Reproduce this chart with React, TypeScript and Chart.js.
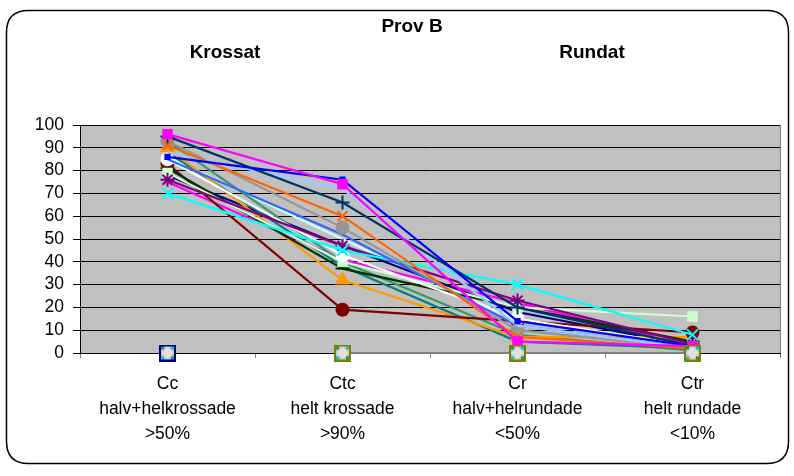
import React, { useEffect, useRef } from "react";
import { Chart, registerables } from "chart.js";

Chart.register(...registerables);

const categories: string[][] = [
  ["Cc", "halv+helkrossade", ">50%"],
  ["Ctc", "helt krossade", ">90%"],
  ["Cr", "halv+helrundade", "<50%"],
  ["Ctr", "helt rundade", "<10%"],
];

const yStep = 10;
const yMax = 100;

const s1 = [96, 74, 5, 3];
const s2 = [86, 76, 14, 3];
const s3 = [95, 66, 20, 3];
const s4 = [91, 60, 7, 2];
const s5 = [88, 72, 12, 2];
const s6 = [93, 55, 10, 2];
const s7 = [85, 52, 12, 2];
const s8 = [70, 45, 30, 8];
const s9 = [76, 47, 23, 4];
const s10 = [85, 43, 15, 3];
const s11 = [79, 40, 20, 16];
const s12 = [81, 37, 20, 5];
const s13 = [83, 19, 14, 9];
const s14 = [90, 32, 7, 7];
const s15 = [88, 38, 5, 2];
const s16 = [93, 40, 8, 1];
const s17 = [78, 47, 18, 3];
const s18 = [86, 50, 14, 3];
const s19 = [75, 41, 22, 3];
const s20 = [0, null, null, null];
const s21 = [null, 0, 0, 0];

function boxMarker(edge: string, size = 17) {
  const c = document.createElement("canvas");
  c.width = size;
  c.height = size;
  const g = c.getContext("2d")!;
  g.fillStyle = "#c0c0c0";
  g.fillRect(0, 0, size, size);
  g.fillStyle = "#2e8b57";
  g.fillRect(2, 2, 3, 3);
  g.fillRect(size - 5, size - 5, 3, 3);
  g.fillStyle = "#00cccc";
  g.fillRect(size - 5, 2, 3, 3);
  g.fillRect(2, size - 5, 3, 3);
  g.fillStyle = "#e0e0e0";
  g.beginPath();
  g.moveTo(size / 2, 2);
  g.lineTo(size - 2, size / 2);
  g.lineTo(size / 2, size - 2);
  g.lineTo(2, size / 2);
  g.closePath();
  g.fill();
  g.strokeStyle = edge;
  g.lineWidth = 2;
  g.strokeRect(1, 1, size - 2, size - 2);
  return c;
}

export default function App() {
  const ref = useRef<HTMLCanvasElement | null>(null);

  useEffect(() => {
    const ctx = ref.current!.getContext("2d")!;

    const mk = (
      data: (number | null)[],
      color: string,
      pointStyle: any,
      radius: number,
      fill?: string
    ) => ({
      data,
      borderColor: color,
      backgroundColor: fill ?? color,
      pointBorderColor: fill ?? color,
      pointBackgroundColor: fill ?? color,
      pointStyle,
      pointRadius: radius,
      pointBorderWidth: 2,
      borderWidth: 2.2,
      tension: 0,
      spanGaps: false,
      clip: false,
    });

    const datasets: any[] = [
      mk(s20, "#808080", boxMarker("#000080"), 8),
      mk(s21, "#808080", boxMarker("#808000"), 8),
      mk(s1, "#FF00FF", "rect", 6),
      mk(s2, "#0000FF", "rect", 3),
      mk(s3, "#003366", "cross", 7),
      mk(s4, "#FF6600", "crossRot", 7),
      mk(s5, "#99CCFF", "circle", 0),
      mk(s6, "#969696", "circle", 6),
      mk(s7, "#3366FF", "circle", 0),
      mk(s8, "#00FFFF", "crossRot", 8),
      mk(s9, "#800080", "star", 7),
      mk(s10, "#FFFFFF", "circle", 6),
      mk(s11, "#CCFFCC", "rect", 6),
      mk(s12, "#003300", "line", 7),
      mk(s13, "#800000", "circle", 6),
      mk(s14, "#FF9900", "triangle", 7),
      mk(s15, "#008080", "rect", 0),
      mk(s16, "#339966", "rect", 0),
      mk(s17, "#000080", "rect", 0),
      mk(s18, "#CCFFFF", "rect", 0),
      mk(s19, "#FF00FF", "rect", 0),
    ];

    const deco = {
      id: "deco",
      beforeDraw(chart: any) {
        const { ctx: c, chartArea: a } = chart;
        c.save();
        c.fillStyle = "#ffffff";
        c.fillRect(0, 0, chart.width, chart.height);
        c.fillStyle = "#C0C0C0";
        c.fillRect(a.left, a.top, a.right - a.left, a.bottom - a.top);
        c.strokeStyle = "#808080";
        c.lineWidth = 1;
        c.strokeRect(a.left + 0.5, a.top + 0.5, a.right - a.left, a.bottom - a.top);
        c.restore();
      },
      afterDraw(chart: any) {
        const c = chart.ctx;
        c.save();
        const x = 6.5, y = 10.5, w = 782, h = 453, r = 22;
        c.strokeStyle = "#000000";
        c.lineWidth = 1.5;
        c.beginPath();
        c.moveTo(x + r, y);
        c.lineTo(x + w - r, y);
        c.quadraticCurveTo(x + w, y, x + w, y + r);
        c.lineTo(x + w, y + h - r);
        c.quadraticCurveTo(x + w, y + h, x + w - r, y + h);
        c.lineTo(x + r, y + h);
        c.quadraticCurveTo(x, y + h, x, y + h - r);
        c.lineTo(x, y + r);
        c.quadraticCurveTo(x, y, x + r, y);
        c.stroke();
        c.fillStyle = "#000000";
        c.textAlign = "center";
        c.textBaseline = "middle";
        c.font = "bold 19px 'Liberation Sans', Arial, sans-serif";
        c.fillText("Prov B", 412, 27);
        c.fillText("Krossat", 225, 53);
        c.fillText("Rundat", 592, 53);
        c.restore();
      },
    };

    const chart = new Chart(ctx, {
      type: "line",
      data: { labels: categories as any, datasets },
      plugins: [deco],
      options: {
        animation: false,
        responsive: false,
        maintainAspectRatio: false,
        layout: { padding: { top: 125, right: 14, bottom: 0, left: 0 } },
        plugins: {
          legend: { display: false },
          tooltip: { enabled: false },
          title: { display: false },
        },
        scales: {
          x: {
            offset: true,
            afterFit: (s: any) => {
              s.height = 123;
            },
            border: { display: true, color: "#000000", width: 1 },
            grid: {
              offset: true,
              drawOnChartArea: false,
              drawTicks: true,
              tickLength: 5,
              color: "#808080",
            },
            ticks: {
              color: "#000000",
              padding: 13,
              maxRotation: 0,
              autoSkip: false,
              font: { family: "'Liberation Sans', Arial, sans-serif", size: 17.5, lineHeight: 1.45 },
            },
          },
          y: {
            min: 0,
            max: yMax,
            afterFit: (s: any) => {
              s.width = 80;
            },
            border: { display: true, color: "#000000", width: 1 },
            grid: {
              color: "#000000",
              lineWidth: 1,
              drawTicks: true,
              tickLength: 7,
            },
            ticks: {
              stepSize: yStep,
              autoSkip: false,
              color: "#000000",
              padding: 9,
              font: { family: "'Liberation Sans', Arial, sans-serif", size: 17.5 },
            },
          },
        },
      },
    });
    return () => chart.destroy();
  }, []);

  return (
    <div style={{ position: "absolute", left: 0, top: 0, width: 794, height: 476 }}>
      <canvas ref={ref} width={794} height={476} style={{ display: "block", width: 794, height: 476 }} />
    </div>
  );
}
